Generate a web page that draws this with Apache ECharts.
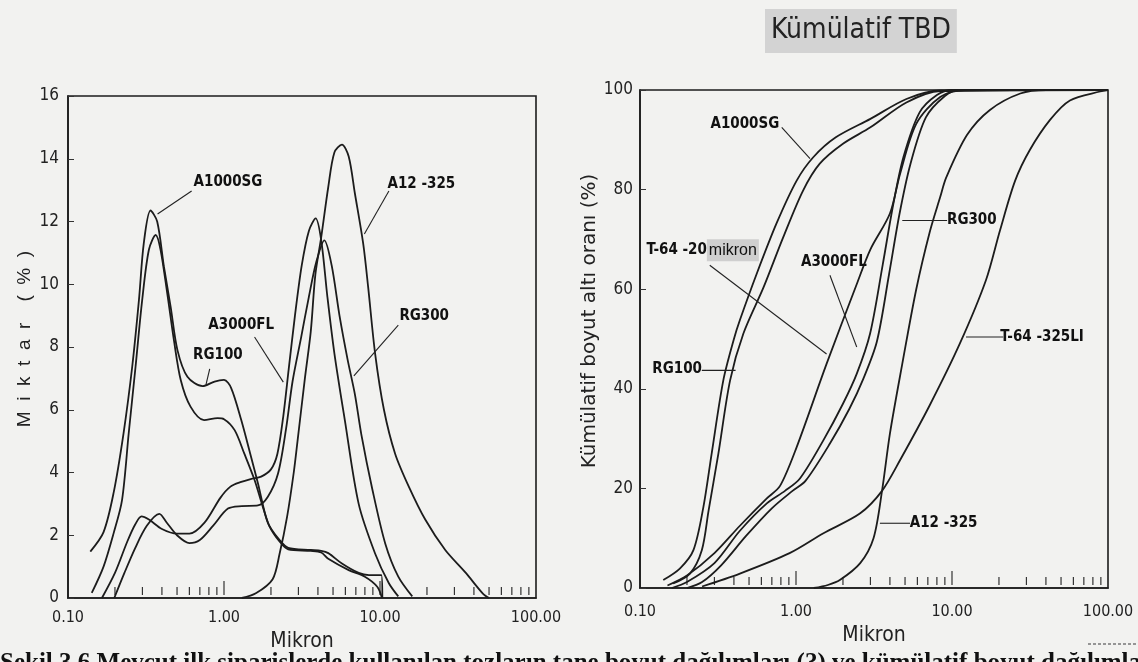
<!DOCTYPE html>
<html>
<head>
<meta charset="utf-8">
<script src="https://cdn.jsdelivr.net/npm/echarts@6/dist/echarts.min.js"></script>
<style>
  html, body { margin: 0; padding: 0; background: #f2f2f0; }
  #chart { width: 1138px; height: 662px; }
</style>
</head>
<body>
<div id="chart"></div>
<script>
// ---------- DATA ----------
// Left chart: frequency distributions, [micron, %]
const freqA1000SG = [[0.139,1.48],[0.169,2.1],[0.196,3.35],[0.227,5.25],[0.258,7.37],[0.285,9.5],[0.306,11.3],[0.338,12.35],[0.373,12.0],[0.412,10.56],[0.455,9.28],[0.503,7.9],[0.583,7.05],[0.73,6.75],[0.87,6.9],[1.0,6.95],[1.11,6.7],[1.29,5.67],[1.49,4.5],[1.65,3.66],[1.91,2.4],[2.27,1.85],[2.58,1.6],[3.6,1.53],[4.2,1.5],[4.66,1.43],[5.7,1.1],[7.3,0.8],[8.5,0.73],[10.2,0.73],[10.35,0]];
const freqRG100 = [[0.142,0.16],[0.169,1.0],[0.196,2.06],[0.222,3.12],[0.245,5.25],[0.271,7.37],[0.299,9.5],[0.33,11.1],[0.365,11.57],[0.392,11.1],[0.433,9.7],[0.478,8.2],[0.528,6.95],[0.61,6.1],[0.745,5.67],[0.91,5.73],[1.0,5.7],[1.17,5.35],[1.35,4.6],[1.57,3.76],[1.75,3.0],[1.95,2.3],[2.27,1.8],[2.58,1.55],[3.6,1.5],[4.2,1.45],[4.66,1.25],[6.3,0.89],[8.0,0.68],[9.6,0.36],[10.3,0]];
const freqA3000FL = [[0.165,0],[0.2,0.8],[0.24,1.8],[0.27,2.35],[0.296,2.6],[0.33,2.5],[0.4,2.2],[0.5,2.05],[0.6,2.05],[0.75,2.4],[0.95,3.2],[1.1,3.55],[1.29,3.7],[1.5,3.8],[1.73,3.87],[2.0,4.1],[2.2,4.6],[2.4,5.8],[2.6,7.3],[2.85,9.0],[3.15,10.6],[3.5,11.7],[3.87,12.1],[4.2,11.4],[4.6,9.6],[5.1,7.8],[5.95,5.67],[7.3,3.0],[9.3,1.42],[11.4,0.47],[13.1,0.05]];
const freqRG300 = [[0.198,0],[0.23,0.8],[0.27,1.6],[0.32,2.3],[0.385,2.68],[0.43,2.4],[0.5,2.0],[0.6,1.75],[0.7,1.85],[0.85,2.3],[1.06,2.85],[1.3,2.93],[1.65,2.95],[1.91,3.23],[2.22,3.97],[2.5,5.4],[2.75,6.9],[3.12,8.3],[3.5,9.6],[3.9,10.7],[4.4,11.4],[4.9,10.6],[5.5,9.0],[6.2,7.6],[6.9,6.5],[7.6,5.2],[8.9,3.5],[10.8,1.74],[13.1,0.68],[16.1,0.05]];
const freqA12_325 = [[1.3,0],[1.6,0.15],[2.05,0.6],[2.27,1.4],[2.54,2.6],[2.8,4.0],[2.96,5.0],[3.3,7.0],[3.6,8.5],[3.85,10.3],[4.2,11.5],[4.66,13.1],[5.1,14.2],[5.7,14.45],[6.3,14.07],[6.9,12.9],[7.8,11.3],[8.4,9.9],[9.3,7.8],[10.6,6.0],[12.5,4.6],[15.3,3.55],[19.5,2.5],[26.2,1.53],[35.5,0.8],[45.5,0.15],[50,0]];

// Right chart: cumulative distributions, [micron, %]
const cumA1000SG = [[0.141,1.6],[0.18,3.9],[0.22,7.6],[0.255,16.3],[0.288,27],[0.342,41.7],[0.4,50],[0.437,53.8],[0.56,63.1],[0.75,73.2],[1.01,81.8],[1.29,86.5],[1.8,90.5],[3.0,94.2],[5.1,98.2],[8.4,99.9],[100,100]];
const cumRG100 = [[0.163,0.9],[0.209,2.9],[0.249,7.6],[0.275,15.5],[0.318,27],[0.378,41.7],[0.46,51.1],[0.62,60.4],[0.83,70.5],[1.11,79.8],[1.42,85.2],[2.0,89.2],[3.0,92.5],[5.1,97.5],[8.4,99.8],[100,100]];
const cumT64_20 = [[0.15,0.5],[0.2,2.5],[0.3,7],[0.437,12.5],[0.65,18],[0.79,20.5],[1.01,28.3],[1.57,45],[2.45,61],[3.0,68],[4.0,75.2],[4.65,83.2],[5.9,93.2],[8.4,98.6],[12,100],[100,100]];
const cumA3000FL = [[0.16,0],[0.2,1.2],[0.3,5],[0.437,11.5],[0.65,17],[0.85,19.5],[1.06,22],[1.5,29.7],[2.0,37],[2.45,43],[2.98,51],[3.6,65],[4.2,77],[4.88,86.5],[6.2,95.5],[8.0,99],[10,100],[100,100]];
const cumRG300 = [[0.2,0],[0.25,1.2],[0.33,4.5],[0.48,10.5],[0.7,16],[0.95,19.5],[1.15,21.5],[1.65,29],[2.2,36],[2.7,42],[3.3,49.5],[3.95,63],[4.6,75],[5.4,85],[6.8,94.5],[9,98.8],[11,100],[100,100]];
const cumA12_325 = [[1.3,0],[1.6,0.6],[1.91,1.6],[2.58,5],[3.14,10],[3.56,19.5],[4.0,31],[4.8,45],[5.9,60],[7.2,71.5],[8.4,78.5],[9.2,82.5],[12.5,91],[17.5,96],[27.4,99.3],[40,100],[100,100]];
const cumT64_325LI = [[0.25,0.3],[0.437,2.9],[0.91,7],[1.5,11],[2.58,15],[3.56,19.5],[4.65,25.7],[7.2,36.7],[11.2,49],[16.5,61.8],[20.3,71.8],[25.4,81.8],[31.6,88],[42.5,94],[57,97.9],[89,99.7],[100,100]];

// Axis tick values
const minorTicks = [0.2,0.3,0.4,0.5,0.6,0.7,0.8,0.9,2,3,4,5,6,7,8,9,20,30,40,50,60,70,80,90];
const majorTicks = [1, 10];

// Curve labels (data coordinates): text position, leader start, leader end
const leftLabels = [
  {name:'A1000SG', at:[1.06,13.26], from:[0.62,12.97], to:[0.375,12.24]},
  {name:'A12 -325', at:[18.4,13.2], from:[11.4,12.97], to:[7.94,11.6]},
  {name:'A3000FL', at:[1.29,8.7], from:[1.57,8.32], to:[2.4,6.88]},
  {name:'RG100', at:[0.914,7.75], from:[0.81,7.3], to:[0.766,6.79]},
  {name:'RG300', at:[19.2,8.99], from:[13.1,8.7], to:[6.8,7.08]}
];
const rightLabels = [
  {name:'A1000SG', at:[0.47,93.2], from:[0.81,92.5], to:[1.23,86.2]},
  {name:'{a|T-64 -20}{b|mikron}', at:[0.252,67.8], from:[0.28,64.8], to:[1.57,47]},
  {name:'A3000FL', at:[1.75,65.5], from:[1.65,62.8], to:[2.45,48.4]},
  {name:'RG100', at:[0.173,44], from:[0.249,43.7], to:[0.41,43.7]},
  {name:'RG300', at:[13.4,73.8], from:[9.3,73.8], to:[4.8,73.8]},
  {name:'T-64 -325LI', at:[37.8,50.4], from:[21.3,50.4], to:[12.3,50.4]},
  {name:'A12 -325', at:[8.83,13], from:[5.38,13], to:[3.45,13]}
];

// ---------- CHART ----------
const NARROW = "'Liberation Sans Narrow','Arial Narrow','DejaVu Sans Condensed',sans-serif";
const INK = '#1c1c1c';
const chart = echarts.init(document.getElementById('chart'), null, {renderer:'canvas'});

function curve(name, data, gi) {
  return { name, type:'line', xAxisIndex:gi, yAxisIndex:gi, data, smooth:0.3,
    showSymbol:false, symbol:'none', clip:true,
    lineStyle:{color:INK, width:1.8}, emphasis:{disabled:true}, z:3 };
}
function tickSeries(gi) {
  const data = minorTicks.map(v => [v, 0, 0]).concat(majorTicks.map(v => [v, 0, 1]));
  return { type:'custom', xAxisIndex:gi, yAxisIndex:gi, data, encode:{x:0, y:1}, silent:true, clip:false,
    renderItem:(params, api) => {
      const p = api.coord([api.value(0), api.value(1)]);
      const big = api.value(2) === 1;
      return {type:'line', shape:{x1:p[0], y1:p[1]-3, x2:p[0], y2:p[1]-(big?17:11)},
        style:{stroke:'#333', lineWidth:1.2}};
    }};
}
function labelSeries(labels, gi) {
  return { type:'custom', xAxisIndex:gi, yAxisIndex:gi, silent:true, clip:false, z:5,
    data: labels.map(l => [l.at[0], l.at[1]]), encode:{x:0, y:1},
    renderItem:(params, api) => {
      const l = labels[params.dataIndex];
      const t = api.coord(l.at), a = api.coord(l.from), b = api.coord(l.to);
      return {type:'group', children:[
        {type:'line', shape:{x1:a[0], y1:a[1], x2:b[0], y2:b[1]}, style:{stroke:'#222', lineWidth:1.1}},
        {type:'text', x:t[0], y:t[1], style:{text:l.name, fill:'#111', align:'center', verticalAlign:'middle',
          font:"bold 15px " + NARROW,
          rich:{a:{font:"bold 15px " + NARROW, fill:'#111'},
                b:{font:"16px 'Liberation Sans',Arial,sans-serif", fill:'#111', backgroundColor:'#cfcfcf', padding:[3,2,3,2]}}}}
      ]};
    }};
}

const xAxisCommon = {
  type:'log', logBase:10, min:0.1, max:100, nameLocation:'middle',
  axisLine:{lineStyle:{color:INK, width:1.6}}, axisTick:{show:false}, splitLine:{show:false}, minorTick:{show:false},
  axisLabel:{color:'#222', fontFamily:NARROW, fontSize:16, formatter:v => Number(v).toFixed(2)},
  nameTextStyle:{color:'#222', fontFamily:NARROW, fontSize:21}
};

const option = {
  backgroundColor:'#f2f2f0',
  animation:false,
  title:{text:'Kümülatif TBD', left:765, top:9, backgroundColor:'#d3d3d3', padding:[8,6,8,6],
    textStyle:{fontFamily:NARROW, fontWeight:'normal', fontSize:28, color:'#222'}},
  grid:[
    {left:68, top:96, width:468, height:502, show:true, borderColor:INK, borderWidth:1.6, backgroundColor:'transparent'},
    {left:640, top:90, width:468, height:498, show:true, borderColor:INK, borderWidth:1.6, backgroundColor:'transparent'}
  ],
  xAxis:[
    Object.assign({}, xAxisCommon, {gridIndex:0, name:'Mikron', nameGap:26, axisLabel:Object.assign({}, xAxisCommon.axisLabel, {margin:12})}),
    Object.assign({}, xAxisCommon, {gridIndex:1, name:'Mikron', nameGap:36, axisLabel:Object.assign({}, xAxisCommon.axisLabel, {margin:16})})
  ],
  yAxis:[
    {type:'value', gridIndex:0, min:0, max:16, interval:2, name:'M  i  k  t  a  r    (  %  )', nameLocation:'middle', nameGap:34,
      nameTextStyle:{color:'#222', fontFamily:"'Liberation Sans',Arial,sans-serif", fontSize:19, padding:[0,0,0,16]},
      axisLine:{show:true, lineStyle:{color:INK, width:1.6}}, axisTick:{show:true, inside:true, length:6, lineStyle:{color:'#333'}},
      splitLine:{show:false}, axisLabel:{color:'#222', fontFamily:NARROW, fontSize:17, margin:9}},
    {type:'value', gridIndex:1, min:0, max:100, interval:20, name:'Kümülatif boyut altı oranı (%)', nameLocation:'middle', nameGap:34,
      nameTextStyle:{color:'#222', fontFamily:"'DejaVu Sans',sans-serif", fontSize:20, padding:[0,0,0,36]},
      axisLine:{show:true, lineStyle:{color:INK, width:1.6}}, axisTick:{show:true, inside:true, length:6, lineStyle:{color:'#333'}},
      splitLine:{show:false}, axisLabel:{color:'#222', fontFamily:NARROW, fontSize:17, margin:7}}
  ],
  graphic:[
    {type:'text', left:0, top:651, silent:true,
      style:{text:'Şekil 3.6 Mevcut ilk siparişlerde kullanılan tozların tane boyut dağılımları (?) ve kümülatif boyut dağılımları, Alcoa T-64',
        font:"bold 25px 'Liberation Serif','Times New Roman',serif", fill:'#111'}},
    {type:'line', silent:true, shape:{x1:1088, y1:644, x2:1138, y2:644}, style:{stroke:'#777', lineWidth:1.5, lineDash:[3,2]}}
  ],
  series:[
    curve('A1000SG', freqA1000SG, 0),
    curve('RG100', freqRG100, 0),
    curve('A3000FL', freqA3000FL, 0),
    curve('RG300', freqRG300, 0),
    curve('A12 -325', freqA12_325, 0),
    tickSeries(0),
    labelSeries(leftLabels, 0),
    curve('A1000SG', cumA1000SG, 1),
    curve('RG100', cumRG100, 1),
    curve('T-64 -20mikron', cumT64_20, 1),
    curve('A3000FL', cumA3000FL, 1),
    curve('RG300', cumRG300, 1),
    curve('A12 -325', cumA12_325, 1),
    curve('T-64 -325LI', cumT64_325LI, 1),
    tickSeries(1),
    labelSeries(rightLabels, 1)
  ]
};
chart.setOption(option);
</script>
</body>
</html>
